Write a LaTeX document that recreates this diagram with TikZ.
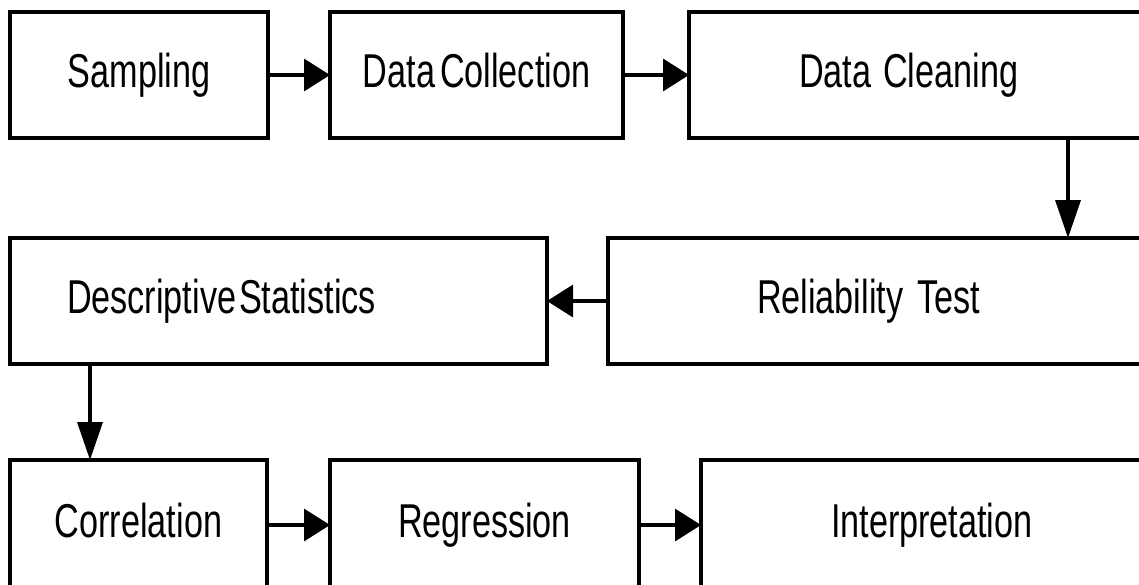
\documentclass[tikz,border=0pt]{standalone}
\usepackage{fontspec}
\setmainfont{Liberation Sans}[FakeStretch=0.72]
\usetikzlibrary{arrows.meta}
\newcommand\labelfont{\fontsize{47.5}{52}\selectfont}
\newcommand\wordgap[1]{\hspace{#1pt}}

\tikzset{
  box/.style={draw, line width=3.5pt, rectangle, anchor=north west,
    outer sep=0pt, inner sep=0pt, minimum height=126pt,
    text height=34pt, text depth=10pt, font=\labelfont},
  leftset/.style 2 args={align=left, text width=#1, inner xsep=#2},
  harr/.style={line width=3.5pt, -{Triangle[length=26pt,width=32pt]}},
  varr/.style={line width=3.5pt, -{Triangle[length=38pt,width=25pt]}},
}

\begin{document}
\begin{tikzpicture}[x=1pt,y=-1pt]
  \useasboundingbox (0,0) rectangle (1139,584);
  \fill[white] (0,0) rectangle (1139,584);
  \clip (0,0) rectangle (1139,584);

  % first row
  \node[box, minimum width=258pt] (samp) at (10,12) {Sampling};
  \node[box, minimum width=293pt] (coll) at (330,12) {Data\wordgap{5}Collection};
  \node[box, minimum width=480pt, leftset={260pt}{110pt}] (clean) at (689,12) {Data\wordgap{12}Cleaning};

  % second row
  \node[box, minimum width=537pt, leftset={423pt}{57pt}] (desc) at (10,238) {Descriptive\wordgap{3}Statistics};
  \node[box, minimum width=560pt, leftset={262pt}{149pt}] (rel) at (608,238) {Reliability\wordgap{14}Test};

  % third row (runs past the lower edge)
  \node[box, minimum width=257pt, minimum height=130pt] (corr) at (10,460) {Correlation};
  \node[box, minimum width=309pt, minimum height=130pt] (regr) at (330,460) {Regression};
  \node[box, minimum width=480pt, minimum height=130pt, leftset={220pt}{130pt}] (interp) at (701,460) {Interpretation};

  % connectors
  \draw[harr] (samp.east) -- (coll.west);
  \draw[harr] (coll.east) -- (clean.west);
  \coordinate (dropA) at (1068,0);
  \draw[varr] (clean.south -| dropA) -- (rel.north -| dropA);
  \draw[harr] (rel.west) -- (desc.east);
  \coordinate (dropB) at (90,0);
  \draw[varr] (desc.south -| dropB) -- (corr.north -| dropB);
  \draw[harr] (corr.east) -- (regr.west);
  \draw[harr] (regr.east) -- (interp.west);
\end{tikzpicture}
\end{document}
